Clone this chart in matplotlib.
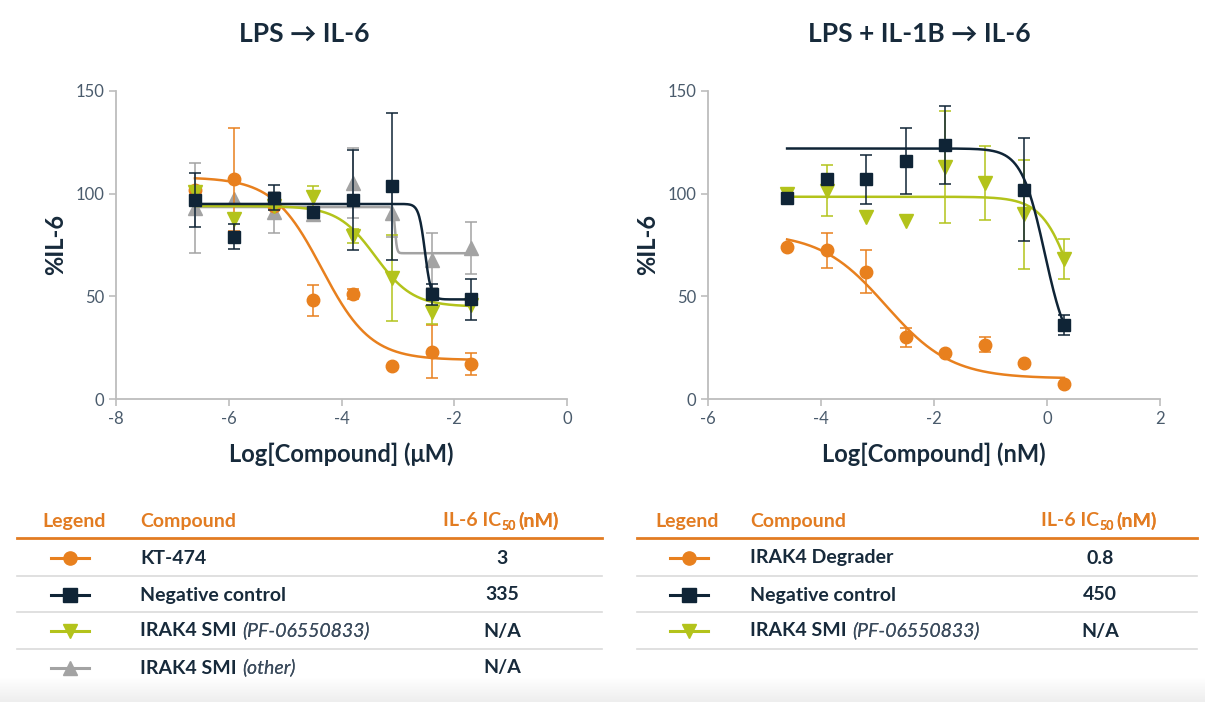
import numpy as np
import matplotlib.pyplot as plt
from matplotlib.lines import Line2D
from matplotlib.colors import LinearSegmentedColormap

plt.rcParams['font.family'] = ['Lato', 'DejaVu Sans']
plt.rcParams['axes.unicode_minus'] = False

W, H = 1205, 702

ORANGE = '#E8801E'
NAVY = '#0F2436'
LIME = '#B3C31B'
GRAY = '#A3A3A3'
TITLE = '#172A3B'
TICK = '#4A5B6C'
SPINE = '#BDBDBD'
HEAD = '#E27C22'
ROWLINE = '#DADADA'

# ---- LPS -> IL-6, log[compound] in uM ----
lps_x = [-6.6, -5.9, -5.2, -4.5, -3.8, -3.1, -2.4, -1.7]
lps_kt474 = [102, 107, 94, 48, 51, 16, 23, 17]
lps_kt474_err = [0, 25, 0, 7.5, 2.5, 0, 13, 5.5]
lps_neg = [97, 79, 98, 91, 97, 103.5, 51, 48.5]
lps_neg_err = [13, 6, 6, 0, 24.5, 36, 5, 10]
lps_smi = [101, 87.5, 94, 98.5, 79.5, 59, 42.5, 46]
lps_smi_err = [0, 0, 0, 5, 3.5, 21, 6, 0]
lps_other = [93, 97.5, 91, 90, 105, 90.5, 67.5, 73.5]
lps_other_err = [22, 0, 10, 0, 17, 11.5, 13.5, 12.5]

# 4PL fits: bottom, top, logIC50, hill
lps_kt474_fit = [19, 108, -4.35, 1.0]
lps_neg_fit = [48.5, 95, -2.52, 8.0]
lps_smi_fit = [45, 94, -3.4, 1.3]
lps_other_fit = [71, 93.5, -3.05, 25.0]

# ---- LPS + IL-1B -> IL-6, log[compound] in nM ----
il1b_x = [-4.6, -3.9, -3.2, -2.5, -1.8, -1.1, -0.4, 0.3]
il1b_deg = [74, 72.5, 62, 30, 22.5, 26.5, 17.5, 7.5]
il1b_deg_err = [0, 8.5, 10.5, 4.8, 0, 3.5, 0, 0]
il1b_neg_x = [-4.6, -3.9, -3.2, -2.5, -1.8, -0.4, 0.3]
il1b_neg = [98, 107, 107, 116, 123.5, 102, 36]
il1b_neg_err = [0, 0, 12, 16, 19, 25, 4.7]
il1b_smi = [100, 101.5, 88.5, 86.5, 113, 105, 90, 68]
il1b_smi_err = [0, 12.5, 0, 0, 27.5, 18, 26.5, 9.7]

il1b_deg_fit = [10, 81, -2.85, 0.75]
il1b_neg_fit = [20, 122, -0.04, 2.1]
il1b_smi_fit = [0, 98.5, 0.55, 1.5]

# table contents
left_rows = [('KT-474', '', '3'), ('Negative control', '', '335'),
             ('IRAK4 SMI', '(PF-06550833)', 'N/A'), ('IRAK4 SMI', '(other)', 'N/A')]
right_rows = [('IRAK4 Degrader', '', '0.8'), ('Negative control', '', '450'),
              ('IRAK4 SMI', '(PF-06550833)', 'N/A')]


def four_pl(x, bottom, top, logic50, hill):
    return bottom + (top - bottom) / (1 + 10 ** (hill * (x - logic50)))


def px(x, y):
    return x / W, 1 - y / H


def draw_series(ax, x, y, err, fit, color, marker, ms, z):
    x = np.asarray(x, float)
    y = np.asarray(y, float)
    err = np.asarray(err, float)
    xx = np.linspace(x.min(), x.max(), 400)
    ax.plot(xx, four_pl(xx, *fit), color=color, lw=1.8, zorder=z)
    m = err > 0
    ax.errorbar(x[m], y[m], yerr=err[m], fmt='none', ecolor=color,
                elinewidth=1.1, capsize=4.5, capthick=1.1, zorder=z)
    ax.plot(x, y, ls='none', marker=marker, ms=ms, color=color, mec=color,
            zorder=z + 0.5, clip_on=False)


def style_axes(ax, xlim, xticks, xlabel):
    ax.set_xlim(*xlim)
    ax.set_ylim(0, 150)
    ax.set_xticks(xticks)
    ax.set_yticks([0, 50, 100, 150])
    for s in ('top', 'right'):
        ax.spines[s].set_visible(False)
    for s in ('left', 'bottom'):
        ax.spines[s].set_color(SPINE)
        ax.spines[s].set_linewidth(1.3)
    ax.tick_params(colors=SPINE, labelcolor=TICK, labelsize=12, length=5, width=1.2)
    ax.set_xlabel(xlabel, fontsize=17, fontweight='bold', color=TITLE, labelpad=11)
    ax.set_ylabel('%IL-6', fontsize=17, fontweight='bold', color=TITLE, labelpad=6)


fig = plt.figure(figsize=(W / 100, H / 100), dpi=100)

ax1 = fig.add_axes([116 / W, 1 - 399 / H, 451 / W, 308 / H])
ax2 = fig.add_axes([708 / W, 1 - 399 / H, 452 / W, 308 / H])

draw_series(ax1, lps_x, lps_other, lps_other_err, lps_other_fit, GRAY, '^', 9.5, 2)
draw_series(ax1, lps_x, lps_kt474, lps_kt474_err, lps_kt474_fit, ORANGE, 'o', 9, 3)
draw_series(ax1, lps_x, lps_smi, lps_smi_err, lps_smi_fit, LIME, 'v', 9.5, 4)
draw_series(ax1, lps_x, lps_neg, lps_neg_err, lps_neg_fit, NAVY, 's', 9, 5)
style_axes(ax1, (-8, 0), [-8, -6, -4, -2, 0], 'Log[Compound] (\u03bcM)')

draw_series(ax2, il1b_x, il1b_deg, il1b_deg_err, il1b_deg_fit, ORANGE, 'o', 9, 3)
draw_series(ax2, il1b_x, il1b_smi, il1b_smi_err, il1b_smi_fit, LIME, 'v', 9.5, 4)
draw_series(ax2, il1b_neg_x, il1b_neg, il1b_neg_err, il1b_neg_fit, NAVY, 's', 9, 5)
style_axes(ax2, (-6, 2), [-6, -4, -2, 0, 2], 'Log[Compound] (nM)')

fig.text(*px(304, 34), 'LPS \u2192 IL-6', fontsize=19, fontweight='bold',
         color=TITLE, ha='center', va='center')
fig.text(*px(919, 34), 'LPS + IL-1B \u2192 IL-6', fontsize=19, fontweight='bold',
         color=TITLE, ha='center', va='center')

HEAD_FS = 14
ROW_FS = 14


def draw_table(x0, x1, legend_x, glyph_x, name_x, value_x, rows, glyphs):
    head_y = 521
    fig.text(*px(legend_x, head_y), 'Legend', color=HEAD, fontsize=HEAD_FS,
             fontweight='bold', va='center', ha='left')
    fig.text(*px(name_x, head_y), 'Compound', color=HEAD, fontsize=HEAD_FS,
             fontweight='bold', va='center', ha='left')
    t = fig.text(*px(value_x - 59, head_y), 'IL-6 IC', color=HEAD, fontsize=HEAD_FS,
                 fontweight='bold', va='center', ha='left')
    s = plt.annotate('50', xy=(1, 0), xycoords=t, xytext=(0.5, -2.0),
                     textcoords='offset points', color=HEAD, fontsize=9,
                     fontweight='bold', va='bottom', ha='left')
    fig.add_artist(s)
    u = plt.annotate('(nM)', xy=(1, 0), xycoords=(s, t), xytext=(1.5, 0),
                     textcoords='offset points', color=HEAD, fontsize=HEAD_FS,
                     fontweight='bold', va='bottom', ha='left')
    fig.add_artist(u)

    fig.add_artist(Line2D([x0 / W, x1 / W], [1 - 538 / H] * 2, color=HEAD,
                          lw=2, transform=fig.transFigure))
    row_y = [558, 595, 631, 668]
    sep_y = [576, 612, 649, 686]
    for i, (name, extra, value) in enumerate(rows):
        y = row_y[i]
        color, marker = glyphs[i]
        gx = [(glyph_x - 19) / W, glyph_x / W, (glyph_x + 19) / W]
        fig.add_artist(Line2D(gx, [1 - y / H] * 3, color=color, lw=2.2,
                              marker=marker, ms=9.5, markevery=[1],
                              transform=fig.transFigure))
        nt = fig.text(*px(name_x, y), name, color=TITLE, fontsize=ROW_FS,
                      fontweight='bold', va='center', ha='left')
        if extra:
            e = plt.annotate(extra, xy=(1, 0), xycoords=nt, xytext=(4, 0),
                             textcoords='offset points', color='#3B4B5C',
                             fontsize=ROW_FS, style='italic', va='bottom',
                             ha='left')
            fig.add_artist(e)
        fig.text(*px(value_x, y), value, color=TITLE, fontsize=ROW_FS,
                 fontweight='bold', va='center', ha='center')
        if i < len(rows) - 1 or len(rows) == 3:
            fig.add_artist(Line2D([x0 / W, x1 / W], [1 - sep_y[i] / H] * 2,
                                  color=ROWLINE, lw=1.2,
                                  transform=fig.transFigure))


draw_table(17, 602, 42, 70, 140, 502, left_rows,
           [(ORANGE, 'o'), (NAVY, 's'), (LIME, 'v'), (GRAY, '^')])
draw_table(637, 1197, 655, 689, 750, 1100, right_rows,
           [(ORANGE, 'o'), (NAVY, 's'), (LIME, 'v')])

# soft grey band along the bottom edge
band = fig.add_axes([0, 0, 1, 24 / H], zorder=-5)
band.imshow(np.linspace(0, 1, 50).reshape(-1, 1), aspect='auto',
            cmap=LinearSegmentedColormap.from_list('band', ['#FFFFFF', '#EEEEEE']),
            origin='upper', extent=[0, 1, 0, 1])
band.axis('off')

fig.savefig('out.png', dpi=100)
